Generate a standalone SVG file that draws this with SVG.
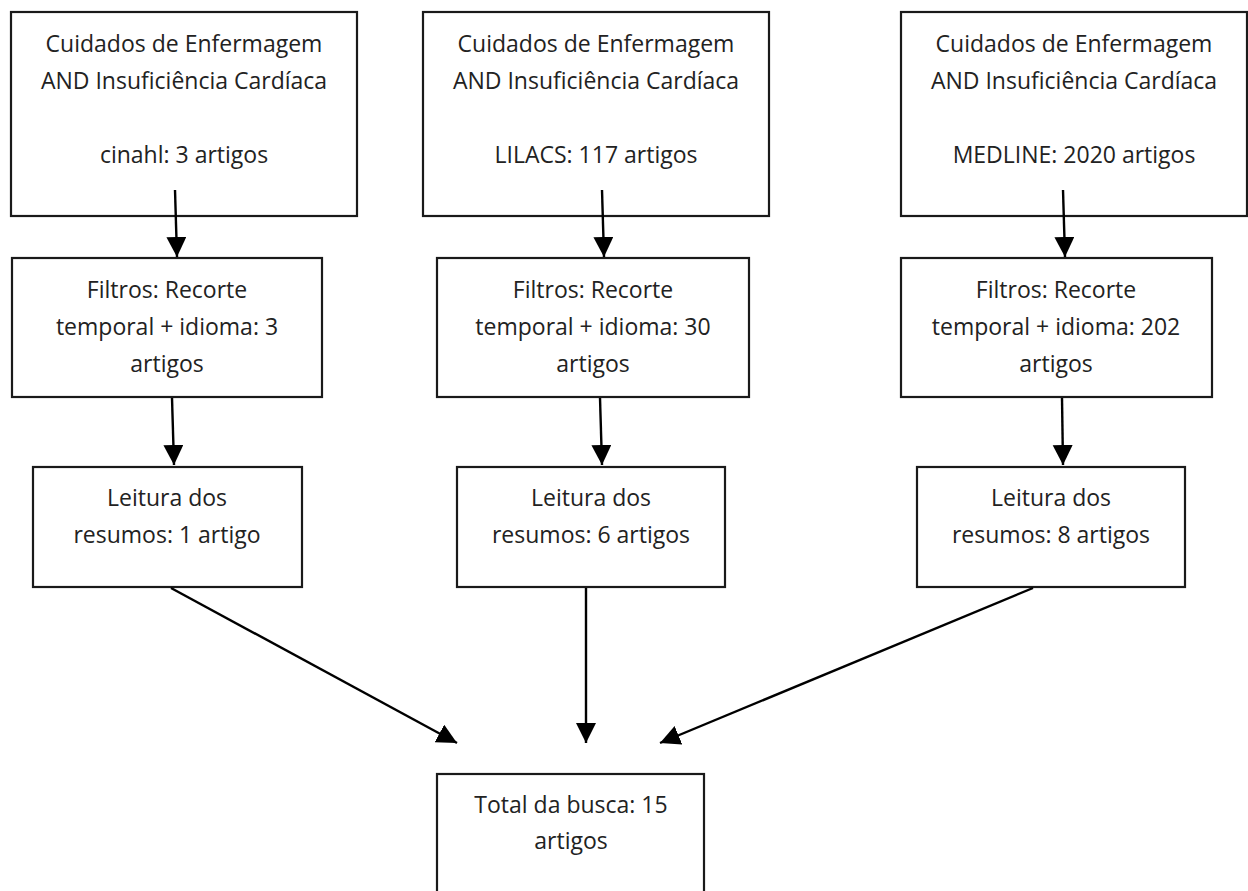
<svg xmlns="http://www.w3.org/2000/svg" width="1248" height="891" viewBox="0 0 1248 891">
<style>
.box{fill:#fff;stroke:#1a1a1a;stroke-width:2.2}
.t{font-family:"Open Sans","Noto Sans","Liberation Sans",sans-serif;font-size:23px;fill:#222;text-anchor:middle}
.c{stroke:#000;stroke-width:2.4;fill:none;marker-end:url(#ah)}
</style>
<defs>
<marker id="ah" markerUnits="userSpaceOnUse" markerWidth="22" markerHeight="22" refX="20" refY="10" orient="auto">
<path d="M0,0 L20,10 L0,20 z" fill="#000"/>
</marker>
</defs>
<rect width="1248" height="891" fill="#fff"/>
<g id="n1a"><rect class="box" x="11" y="12" width="346" height="204"/>
<text class="t" x="184" y="52">Cuidados de Enfermagem</text>
<text class="t" x="184" y="89">AND Insuficiência Cardíaca</text>
<text class="t" x="184" y="163">cinahl: 3 artigos</text></g>
<g id="n2a"><rect class="box" x="423" y="12" width="346" height="204"/>
<text class="t" x="596" y="52">Cuidados de Enfermagem</text>
<text class="t" x="596" y="89">AND Insuficiência Cardíaca</text>
<text class="t" x="596" y="163">LILACS: 117 artigos</text></g>
<g id="n3a"><rect class="box" x="901" y="12" width="346" height="204"/>
<text class="t" x="1074" y="52">Cuidados de Enfermagem</text>
<text class="t" x="1074" y="89">AND Insuficiência Cardíaca</text>
<text class="t" x="1074" y="163">MEDLINE: 2020 artigos</text></g>
<g id="n1b"><rect class="box" x="12" y="258" width="310" height="139"/>
<text class="t" x="167" y="298">Filtros: Recorte</text>
<text class="t" x="167" y="335">temporal + idioma: 3</text>
<text class="t" x="167" y="372">artigos</text></g>
<g id="n2b"><rect class="box" x="437" y="258" width="312" height="139"/>
<text class="t" x="593" y="298">Filtros: Recorte</text>
<text class="t" x="593" y="335">temporal + idioma: 30</text>
<text class="t" x="593" y="372">artigos</text></g>
<g id="n3b"><rect class="box" x="901" y="258" width="311" height="139"/>
<text class="t" x="1056" y="298">Filtros: Recorte</text>
<text class="t" x="1056" y="335">temporal + idioma: 202</text>
<text class="t" x="1056" y="372">artigos</text></g>
<g id="n1c"><rect class="box" x="33" y="467" width="269" height="120"/>
<text class="t" x="167" y="506">Leitura dos</text>
<text class="t" x="167" y="543">resumos: 1 artigo</text></g>
<g id="n2c"><rect class="box" x="457" y="467" width="268" height="120"/>
<text class="t" x="591" y="506">Leitura dos</text>
<text class="t" x="591" y="543">resumos: 6 artigos</text></g>
<g id="n3c"><rect class="box" x="917" y="467" width="268" height="120"/>
<text class="t" x="1051" y="506">Leitura dos</text>
<text class="t" x="1051" y="543">resumos: 8 artigos</text></g>
<g id="total"><rect class="box" x="437" y="774" width="267" height="140"/>
<text class="t" x="571" y="813">Total da busca: 15</text>
<text class="t" x="571" y="849">artigos</text></g>
<g id="connectors">
<line class="c" x1="175" y1="190" x2="177" y2="257"/>
<line class="c" x1="602" y1="190" x2="604" y2="257"/>
<line class="c" x1="1063" y1="190" x2="1065" y2="257"/>
<line class="c" x1="172" y1="398" x2="174" y2="465"/>
<line class="c" x1="600" y1="398" x2="602" y2="465"/>
<line class="c" x1="1062" y1="398" x2="1063" y2="465"/>
<line class="c" x1="171" y1="588" x2="457" y2="743"/>
<line class="c" x1="586" y1="588" x2="586" y2="743"/>
<line class="c" x1="1033" y1="588" x2="660" y2="743"/>
</g>
</svg>
